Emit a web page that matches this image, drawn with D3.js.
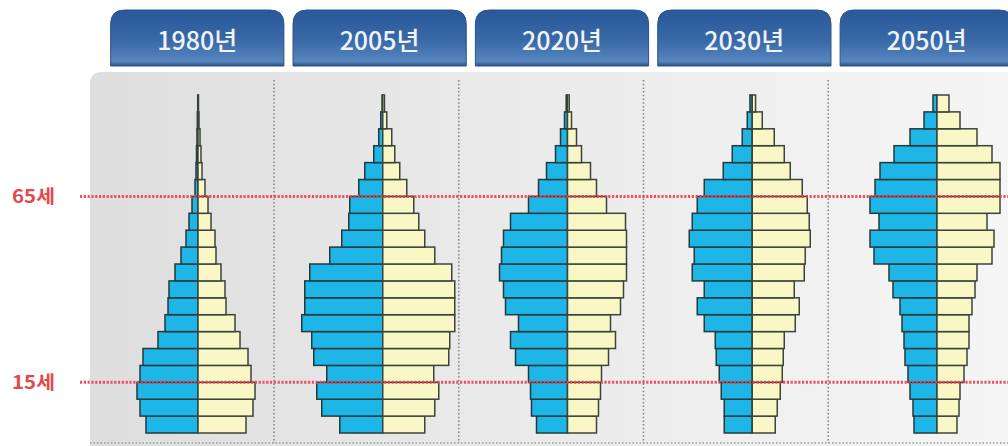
<!DOCTYPE html>
<html>
<head>
<meta charset="utf-8">
<script src="https://cdn.jsdelivr.net/npm/d3@7"></script>
<style>
  body { margin: 0; background: #fff; }
  svg { display: block; }
</style>
</head>
<body>
<svg id="chart" width="1008" height="446"></svg>
<script>
// years shown in the header tabs
var years = ["1980년", "2005년", "2020년", "2030년", "2050년"];

// 5-year age groups, bottom to top
var ageGroups = ["0-4", "5-9", "10-14", "15-19", "20-24", "25-29", "30-34", "35-39",
    "40-44", "45-49", "50-54", "55-59", "60-64", "65-69", "70-74", "75-79",
    "80-84", "85-89", "90-94", "95+"];

// share of population (%) per age group, men (left) and women (right)
var male1980   = [5.2, 5.8, 6.1, 5.8, 5.5, 4.0, 3.3, 3.0, 2.9, 2.3, 1.7, 1.2, 0.9, 0.6, 0.3, 0.2, 0.15, 0.1, 0.07, 0.03];
var female1980 = [4.8, 5.5, 5.7, 5.3, 5.0, 4.2, 3.7, 2.8, 2.7, 2.3, 1.8, 1.7, 1.3, 1.0, 0.7, 0.4, 0.3, 0.2, 0.1, 0.05];
var male2005   = [4.3, 6.1, 6.6, 5.6, 6.9, 7.1, 8.1, 7.8, 7.8, 7.3, 5.3, 4.1, 3.4, 3.3, 2.4, 1.8, 0.9, 0.4, 0.2, 0.07];
var female2005 = [4.2, 5.2, 5.6, 5.1, 6.6, 6.7, 7.2, 7.2, 7.2, 6.9, 5.2, 4.2, 3.6, 3.1, 2.4, 1.7, 1.2, 0.9, 0.4, 0.17];
var male2020   = [3.1, 3.6, 3.7, 3.9, 5.2, 5.7, 4.9, 6.2, 6.4, 6.8, 6.6, 6.4, 5.7, 3.9, 2.9, 2.1, 1.2, 0.7, 0.3, 0.13];
var female2020 = [2.9, 3.1, 3.3, 3.4, 4.1, 4.8, 4.3, 5.3, 5.6, 5.9, 5.9, 5.9, 5.8, 3.9, 2.9, 2.3, 1.4, 0.9, 0.4, 0.17];
var male2030   = [2.8, 2.8, 3.1, 3.3, 3.6, 3.7, 4.8, 5.5, 4.8, 6.0, 5.8, 6.3, 6.0, 5.5, 4.8, 2.9, 2.0, 1.0, 0.5, 0.23];
var female2030 = [2.3, 2.5, 2.8, 3.0, 3.1, 3.2, 4.3, 4.7, 4.2, 5.2, 5.3, 5.8, 5.7, 5.5, 5.0, 3.8, 3.2, 2.2, 1.0, 0.33];
var male2050   = [2.3, 2.4, 2.7, 2.9, 3.2, 3.3, 3.5, 3.7, 4.4, 4.8, 6.3, 6.7, 5.8, 6.7, 6.2, 5.7, 4.3, 2.7, 1.3, 0.4];
var female2050 = [2.0, 2.2, 2.3, 2.7, 3.0, 3.2, 3.2, 3.5, 3.8, 4.0, 5.5, 5.7, 5.0, 6.3, 6.3, 6.3, 5.5, 4.0, 2.3, 1.2];

// age marker lines (label, age group whose lower edge the line sits on)
var markerLabels = ["65세", "15세"];
var markerGroups = ["70-74", "15-19"];

var pyramids = [
    { year: years[0], male: male1980, female: female1980 },
    { year: years[1], male: male2005, female: female2005 },
    { year: years[2], male: male2020, female: female2020 },
    { year: years[3], male: male2030, female: female2030 },
    { year: years[4], male: male2050, female: female2050 }
];

var svg = d3.select("#chart");
var defs = svg.append("defs");

var panelGrad = defs.append("linearGradient").attr("id", "panelGrad")
    .attr("x1", 0).attr("x2", 1).attr("y1", 0).attr("y2", 0);
panelGrad.append("stop").attr("offset", "0%").attr("stop-color", "#dedede");
panelGrad.append("stop").attr("offset", "45%").attr("stop-color", "#eaeaea");
panelGrad.append("stop").attr("offset", "100%").attr("stop-color", "#f5f5f5");

var tabGrad = defs.append("linearGradient").attr("id", "tabGrad")
    .attr("x1", 0).attr("x2", 0).attr("y1", 0).attr("y2", 1);
tabGrad.append("stop").attr("offset", "0%").attr("stop-color", "#28589a");
tabGrad.append("stop").attr("offset", "55%").attr("stop-color", "#3a69a7");
tabGrad.append("stop").attr("offset", "92%").attr("stop-color", "#5785be");
tabGrad.append("stop").attr("offset", "100%").attr("stop-color", "#2a4f80");

// scales
var colX = d3.scalePoint().domain(years).range([198, 937]);
var tabX = d3.scaleBand().domain(years).range([107, 1017]).paddingInner(0.05).paddingOuter(0.02);
var y = d3.scaleBand().domain(ageGroups).range([433, 95]);
var w = d3.scaleLinear().domain([0, 10]).range([0, 100]);

// gray panel
svg.append("path")
    .attr("d", "M90,84 Q90,72 102,72 L1008,72 L1008,446 L90,446 Z")
    .attr("fill", "url(#panelGrad)");

// header tabs
var tabs = svg.selectAll("g.tab").data(years).enter().append("g").attr("class", "tab");
tabs.append("path")
    .attr("d", function(d) {
        var x0 = tabX(d), x1 = tabX(d) + tabX.bandwidth(), r = 14;
        return "M" + x0 + ",66 L" + x0 + "," + (10 + r) +
            " Q" + x0 + ",10 " + (x0 + r) + ",10 L" + (x1 - r) + ",10 Q" + x1 + ",10 " + x1 + "," + (10 + r) +
            " L" + x1 + ",66 Z";
    })
    .attr("fill", "url(#tabGrad)")
    .attr("stroke", "#2b5288")
    .attr("stroke-width", 1);
tabs.append("text")
    .attr("x", function(d) { return tabX(d) + tabX.bandwidth() / 2; })
    .attr("y", 50)
    .attr("text-anchor", "middle")
    .attr("font-family", "'Noto Sans CJK KR', 'Noto Sans', sans-serif")
    .attr("font-size", 25)
    .attr("font-weight", 500)
    .attr("textLength", 80)
    .attr("lengthAdjust", "spacingAndGlyphs")
    .attr("fill", "#eef4fb")
    .text(function(d) { return d; });

// bottom dotted border and column separators
svg.append("line")
    .attr("x1", 90).attr("x2", 1008).attr("y1", 443).attr("y2", 443)
    .attr("stroke", "#9a9a9a").attr("stroke-width", 1.5).attr("stroke-dasharray", "1.5 2");
svg.selectAll("line.sep").data(years.slice(0, 4)).enter().append("line")
    .attr("class", "sep")
    .attr("x1", function(d) { return colX(d) + 76; })
    .attr("x2", function(d) { return colX(d) + 76; })
    .attr("y1", 80).attr("y2", 443)
    .attr("stroke", "#858585").attr("stroke-width", 1.6).attr("stroke-dasharray", "1.5 2.2");

// pyramids
pyramids.forEach(function(p) {
    var cx = colX(p.year);
    var g = svg.append("g");
    var rows = ageGroups.map(function(a, i) {
        return { age: a, male: p.male[i], female: p.female[i] };
    });
    g.selectAll("rect.m").data(rows).enter().append("rect")
        .attr("class", "m")
        .attr("x", function(d) { return cx - w(d.male); })
        .attr("y", function(d) { return y(d.age); })
        .attr("width", function(d) { return w(d.male); })
        .attr("height", y.bandwidth())
        .attr("fill", "#1db6e6")
        .attr("stroke", "#26393a")
        .attr("stroke-width", 1.5);
    g.selectAll("rect.f").data(rows).enter().append("rect")
        .attr("class", "f")
        .attr("x", cx)
        .attr("y", function(d) { return y(d.age); })
        .attr("width", function(d) { return w(d.female); })
        .attr("height", y.bandwidth())
        .attr("fill", "#faf7c6")
        .attr("stroke", "#3b4438")
        .attr("stroke-width", 1.5);
});

// age marker lines
markerGroups.forEach(function(a, i) {
    var yy = y(a) + y.bandwidth();
    svg.append("line")
        .attr("x1", 80).attr("x2", 1008).attr("y1", yy).attr("y2", yy)
        .attr("stroke", "#e8434f").attr("stroke-width", 3)
        .attr("stroke-dasharray", "2.2 1.6")
        .attr("opacity", 0.9);
    svg.append("text")
        .attr("x", 12).attr("y", yy + 7)
        .attr("font-family", "'Noto Sans CJK KR', sans-serif")
        .attr("font-weight", "bold")
        .attr("font-size", 18)
        .attr("textLength", 43)
        .attr("lengthAdjust", "spacingAndGlyphs")
        .attr("fill", "#e4484c")
        .text(markerLabels[i]);
});
</script>
</body>
</html>
